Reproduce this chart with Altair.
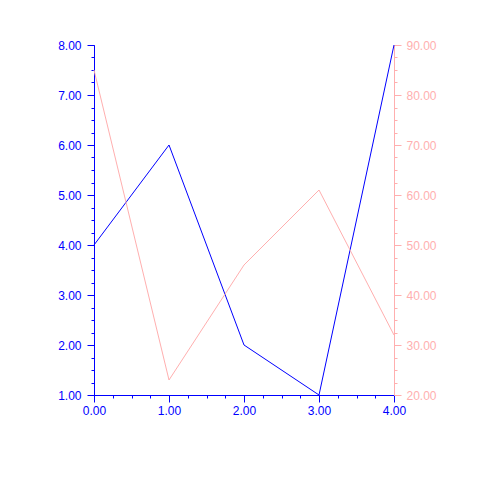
import altair as alt
import pandas as pd

x_vals = [0, 1, 2, 3, 4]
blue_vals = [4.0, 6.0, 2.0, 1.0, 8.0]
pink_vals = [85.0, 23.0, 46.0, 61.0, 32.0]

x_major = [0, 1, 2, 3, 4]
x_minor = [i * 0.25 for i in range(17)]
left_major = [1, 2, 3, 4, 5, 6, 7, 8]
left_minor = [1 + i * 0.25 for i in range(29)]
right_major = [20, 30, 40, 50, 60, 70, 80, 90]
right_minor = [20 + i * 2.5 for i in range(29)]

BLUE = "#0000FF"
PINK = "#FFAFAF"
FONT = "Liberation Sans"

df = pd.DataFrame({"x": x_vals, "blue": blue_vals, "pink": pink_vals})
base = alt.Chart(df)

xdom = alt.Scale(domain=[0, 4], nice=False, zero=False)
ldom = alt.Scale(domain=[1, 8], nice=False, zero=False)
rdom = alt.Scale(domain=[20, 90], nice=False, zero=False)

def fmt_axis(**kw):
    d = dict(grid=False, title=None, labelFont=FONT, labelFontSize=12, format=".2f",
             labelFlush=False, labelOverlap=False)
    d.update(kw)
    return alt.Axis(**d)

blue_line = base.mark_line(color=BLUE, strokeWidth=1).encode(
    x=alt.X("x:Q", scale=xdom, axis=fmt_axis(orient="bottom", values=x_major, tickSize=7,
                                              domainColor=BLUE, tickColor=BLUE, labelColor=BLUE,
                                              labelPadding=3)),
    y=alt.Y("blue:Q", scale=ldom, axis=fmt_axis(orient="left", values=left_major, tickSize=7,
                                                 domainColor=BLUE, tickColor=BLUE, labelColor=BLUE,
                                                 labelPadding=6)),
)

pink_line = base.mark_line(color=PINK, strokeWidth=1).encode(
    x=alt.X("x:Q", scale=xdom, axis=None),
    y=alt.Y("pink:Q", scale=rdom, axis=fmt_axis(orient="right", values=right_major, tickSize=7,
                                                 domainColor=PINK, tickColor=PINK, labelColor=PINK,
                                                 labelPadding=5)),
)

minor_left = base.mark_line(opacity=0).encode(
    x=alt.X("x:Q", scale=xdom, axis=fmt_axis(orient="bottom", values=x_minor, tickSize=3,
                                              labels=False, domain=False, tickColor=BLUE)),
    y=alt.Y("blue:Q", scale=ldom, axis=fmt_axis(orient="left", values=left_minor, tickSize=3,
                                                 labels=False, domain=False, tickColor=BLUE)),
)

minor_right = base.mark_line(opacity=0).encode(
    x=alt.X("x:Q", scale=xdom, axis=None),
    y=alt.Y("pink:Q", scale=rdom, axis=fmt_axis(orient="right", values=right_minor, tickSize=3,
                                                 labels=False, domain=False, tickColor=PINK)),
)

chart = alt.layer(minor_left, minor_right, blue_line, pink_line).resolve_scale(
    x="independent", y="independent"
).resolve_axis(x="independent", y="independent").properties(
    width=300, height=350,
    autosize=alt.AutoSizeParams(type="none"),
    padding={"left": 86, "top": 37, "right": 79, "bottom": 78},
).configure_view(stroke=None)

chart.save("out.html", embed_options={"renderer": "svg", "actions": False})
